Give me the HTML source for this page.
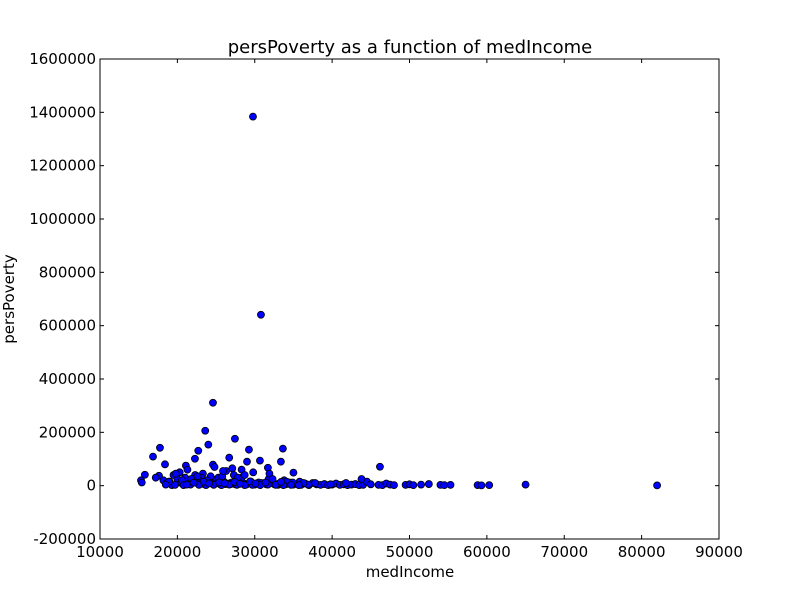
<!DOCTYPE html>
<html><head><meta charset="utf-8"><style>
body{margin:0;background:#fff;font-family:"Liberation Sans","DejaVu Sans",sans-serif}
svg text{font-family:"DejaVu Sans","Liberation Sans",sans-serif}
</style></head><body>
<svg id="chart" width="800" height="600" xmlns="http://www.w3.org/2000/svg">
<rect width="800" height="600" fill="#fff"/>
<g id="plot"></g>
</svg>
<script>
const xTicks=[10000,20000,30000,40000,50000,60000,70000,80000,90000];
const yTicks=[-200000,0,200000,400000,600000,800000,1000000,1200000,1400000,1600000];
const medIncome=[29770,30800,24600,23600,27440,24000,17750,33640,29250,22700,16850,22270,26700,30670,33380,29000,46180,31700,18400,21100,24600,17620,15800,35000,
15300,15400,17200,18200,18600,19000,19500,20000,20500,21000,21500,22000,22500,23000,23500,24000,24500,25000,25500,26000,26500,27000,27500,28000,28500,29000,29500,30000,30500,31000,31500,32000,32500,33000,33500,34000,34500,35000,35500,36000,36500,37000,37500,38000,38500,39000,39500,40000,40500,41000,41500,42000,42500,43000,43500,44000,44500,45000,46000,46500,47000,47500,48000,49500,50000,50500,51500,52500,54000,54500,55300,58800,59300,60300,65000,82000,
19300,20300,21300,22300,23300,24300,25300,26300,27300,28300,19800,21800,23800,25800,27800,29800,31800,33800,35800,37800,18900,20900,22900,24900,26900,28900,30900,32900,34900,36900,26200,27100,28300,24800,25900,31900,28700,23100,20600,22600,32300,34100,36300,43800,39800,41800,
18500,19700,20800,21700,22800,23700,24700,25700,26700,27700,28700,29700,30700,31700,32700,33700,34700,35700,21200,23400,25400,27400,29400,31400,33400,22100,24100,26100,28100,30100];
const persPoverty=[1384000,641000,311000,206000,176000,154000,142000,139000,135000,131000,109000,101000,105000,94000,90000,90000,71000,67000,80000,75000,79000,37000,41000,49000,
20000,12000,30000,20000,8000,15000,40000,25000,10000,30000,8000,20000,12000,25000,5000,18000,10000,22000,6000,15000,8000,12000,5000,20000,10000,6000,15000,4000,12000,8000,5000,10000,6000,3000,8000,5000,12000,4000,6000,3000,8000,2000,10000,5000,3000,6000,2000,4000,8000,3000,5000,2000,4000,6000,2000,3000,15000,5000,3000,2000,8000,4000,2000,3000,5000,2000,4000,6000,3000,2000,3000,2000,1000,2000,4000,1000,2000,
50000,60000,40000,45000,35000,30000,55000,40000,30000,45000,25000,20000,35000,30000,50000,25000,20000,15000,10000,15000,5000,10000,8000,6000,4000,10000,6000,12000,4000,6000,65000,60000,70000,55000,45000,40000,30000,20000,35000,25000,15000,10000,25000,5000,10000,4000,
3000,2000,4000,3000,2000,3000,2000,4000,3000,2000,3000,2000,4000,3000,2000,3000,2000,4000,15000,12000,14000,16000,12000,14000,11000,8000,9000,7000,8000,9000];
const L=100,R=719,T=59,B=539;
const xs=v=>L+(v-10000)/80000*(R-L);
const ys=v=>B-(v+200000)/1800000*(B-T);
const NS="http://www.w3.org/2000/svg";
const g=document.getElementById('plot');
function mk(tag,attrs,parent){const e=document.createElementNS(NS,tag);for(const k in attrs)e.setAttribute(k,attrs[k]);(parent||g).appendChild(e);return e;}
for(let i=0;i<medIncome.length;i++){
 const c=mk('circle',{cx:xs(medIncome[i]),cy:ys(persPoverty[i]),r:3.5,fill:'#0000ff',stroke:'#000','stroke-width':0.8});
 
 
}
const fr=mk('rect',{x:L,y:T,width:R-L,height:B-T,fill:'none',stroke:'#000','stroke-width':1});


xTicks.forEach(v=>{const x=xs(v);
 mk('line',{x1:x,x2:x,y1:B,y2:B-4,stroke:'#000'});mk('line',{x1:x,x2:x,y1:T,y2:T+4,stroke:'#000'});
 const t=mk('text',{x:x,y:B+18,'text-anchor':'middle','font-size':15});t.textContent=v;
 
 
});
yTicks.forEach(v=>{const y=ys(v);
 mk('line',{x1:L,x2:L+4,y1:y,y2:y,stroke:'#000'});mk('line',{x1:R,x2:R-4,y1:y,y2:y,stroke:'#000'});
 const t=mk('text',{x:L-4,y:y+5,'text-anchor':'end','font-size':15});t.textContent=v;
 
 
});
const ti=mk('text',{x:410,y:53,'text-anchor':'middle','font-size':18});ti.textContent='persPoverty as a function of medIncome';


const xl=mk('text',{x:410,y:577,'text-anchor':'middle','font-size':15});xl.textContent='medIncome';


const yl=mk('text',{x:9,y:299,'text-anchor':'middle','font-size':15,transform:'rotate(-90 9 299)'});yl.setAttribute('dy','5');yl.textContent='persPoverty';


</script>
</body></html>
